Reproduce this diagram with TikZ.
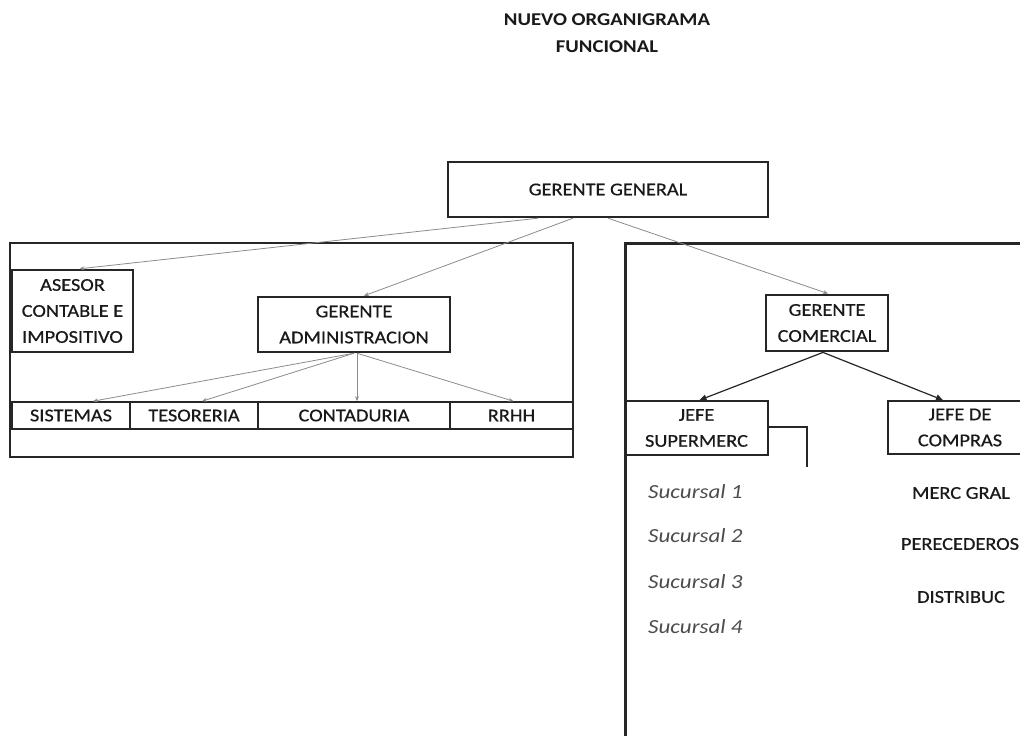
\documentclass[tikz,border=0pt]{standalone}
\usepackage{fontspec}
\setmainfont{Carlito}[FakeStretch=1.15]
\newfontfamily\heavyfont{Carlito}[FakeStretch=1.13, FakeBold=0.6]
\usetikzlibrary{arrows.meta}

\tikzset{
  lbl/.style={font=\heavyfont\fontsize{18}{26}\selectfont, text=black!90, align=center, inner sep=0pt},
  box/.style={lbl, draw=black!85, line width=2.4pt, minimum height=55pt},
  cell/.style={lbl, draw=black!85, line width=1.6pt, minimum height=27pt},
  thin/.style={draw=black!45, line width=0.8pt, -{Stealth[length=5pt,width=4pt]}},
  link/.style={draw=black!85, line width=1.2pt, -{Triangle[length=7pt,width=6pt]}},
  hand/.style={font=\fontsize{20}{22}\selectfont\itshape, text=black!70, anchor=west, inner sep=0pt},
  group/.style={draw=black!85, line width=2.6pt}
}

\begin{document}
\begin{tikzpicture}[x=1pt, y=-1pt]
  \useasboundingbox (0,0) rectangle (1020,736);
  \clip (0,0) rectangle (1020,736);
  \fill[white] (0,0) rectangle (1020,736);

  % heading
  \node[lbl, font=\fontsize{18}{26}\selectfont\bfseries] (t1) at (607,20) {NUEVO ORGANIGRAMA};
  \node[lbl, font=\fontsize{18}{26}\selectfont\bfseries] (t2) at (607,47) {FUNCIONAL};

  % top management
  \node[box, minimum width=320pt] (gg) at (608,189.5) {GERENTE GENERAL};

  % administration area
  \draw[group] (10,243) rectangle (573,457);
  \node[box, minimum width=121pt, minimum height=82pt] (ase) at (72.5,311) {ASESOR\\CONTABLE E\\IMPOSITIVO};
  \node[box, minimum width=192pt] (ga) at (354,324.5) {GERENTE\\ADMINISTRACION};
  \node[cell, minimum width=118pt] (sis) at (71,415.5) {SISTEMAS};
  \node[cell, minimum width=128pt] (tes) at (194,415.5) {TESORERIA};
  \node[cell, minimum width=192pt] (con) at (354,415.5) {CONTADURIA};
  \node[cell, minimum width=123pt] (rh) at (511.5,415.5) {RRHH};

  % commercial area
  \draw[group, line width=3pt] (625,740) -- (625,243) -- (1024,243);
  \node[box, line width=2.8pt, minimum width=122pt, minimum height=56pt] (gc) at (827,323) {GERENTE\\COMERCIAL};
  \node[box, line width=1.8pt, minimum width=143pt, minimum height=54pt] (jsm) at (696.5,428) {JEFE\\SUPERMERC};
  \node[box, line width=1.8pt, minimum width=144pt, minimum height=53pt] (jdc) at (960,427.5) {JEFE DE\\COMPRAS};
  \coordinate (br1) at (807,427);
  \coordinate (br2) at (807,467);
  \draw[black!85, line width=1.3pt] (jsm.east |- br1) -- (br1) -- (br2);

  % branches
  \node[hand] (s1) at (648,492) {Sucursal 1};
  \node[hand] (s2) at (648,536) {Sucursal 2};
  \node[hand] (s3) at (648,582) {Sucursal 3};
  \node[hand] (s4) at (648,627) {Sucursal 4};

  % purchasing lines
  \node[lbl] (m1) at (961,493) {MERC GRAL};
  \node[lbl] (m2) at (960,544) {PERECEDEROS};
  \node[lbl] (m3) at (961,597) {DISTRIBUC};

  % reporting lines
  \draw[thin] ([xshift=-70pt]gg.south) -- ([xshift=7pt]ase.north);
  \draw[thin] ([xshift=-35pt]gg.south) -- ([xshift=10pt]ga.north);
  \draw[thin] (gg.south) -- ([xshift=1pt]gc.north);
  \draw[thin] (ga.south) -- ([xshift=22pt]sis.north);
  \draw[thin] (ga.south) -- ([xshift=8pt]tes.north);
  \draw[thin] ([xshift=3pt]ga.south) -- ([xshift=3pt]con.north);
  \draw[thin] ([xshift=3pt]ga.south) -- ([xshift=2pt]rh.north);
  \draw[link] ([xshift=-4pt]gc.south) -- ([xshift=3pt]jsm.north);
  \draw[link] ([xshift=-4pt]gc.south) -- ([xshift=-17pt]jdc.north);
\end{tikzpicture}
\end{document}
